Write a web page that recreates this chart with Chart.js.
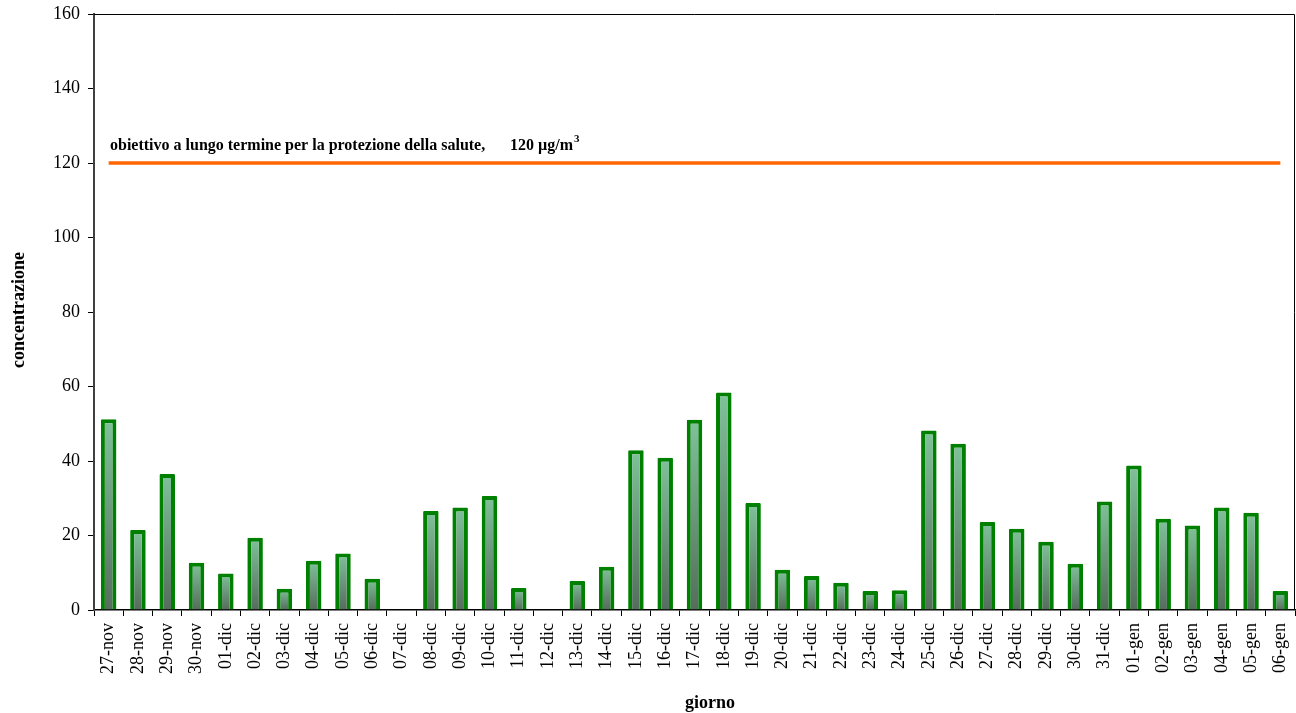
<!DOCTYPE html>
<html>
<head>
<meta charset="utf-8">
<script src="https://cdn.jsdelivr.net/npm/chart.js@4.4.1/dist/chart.umd.min.js"></script>
<style>
  html, body { margin: 0; padding: 0; background: #fff; }
  #wrap { width: 1296px; height: 713px; }
</style>
</head>
<body>
<div id="wrap"><canvas id="chart" width="1296" height="713"></canvas></div>
<script>
const days = [
  "27-nov", "28-nov", "29-nov", "30-nov",
  "01-dic", "02-dic", "03-dic", "04-dic", "05-dic", "06-dic", "07-dic", "08-dic",
  "09-dic", "10-dic", "11-dic", "12-dic", "13-dic", "14-dic", "15-dic", "16-dic",
  "17-dic", "18-dic", "19-dic", "20-dic", "21-dic", "22-dic", "23-dic", "24-dic",
  "25-dic", "26-dic", "27-dic", "28-dic", "29-dic", "30-dic", "31-dic",
  "01-gen", "02-gen", "03-gen", "04-gen", "05-gen", "06-gen"
]

// concentrazione giornaliera (null = dato mancante)
const concentrations = [
  51.2, 21.5, 36.5, 12.7,
  9.8, 19.4, 5.7, 13.2, 15.2, 8.4, null, 26.6,
  27.5, 30.6, 5.9, null, 7.8, 11.6, 42.9, 40.9,
  51.1, 58.4, 28.7, 10.8, 9.1, 7.3, 5.1, 5.3,
  48.2, 44.6, 23.6, 21.8, 18.3, 12.4, 29.1,
  38.8, 24.5, 22.7, 27.5, 26.1, 5.1
]

const target = 120
const targetLabel = "obiettivo a lungo termine per la protezione della salute,"
const targetUnit = "120 µg/m"
const yTicks = [0, 20, 40, 60, 80, 100, 120, 140, 160]
const xTitle = "giorno"
const yTitle = "concentrazione"

const serif = "'Liberation Serif', 'Times New Roman', serif"

// sfumatura per ogni barra: chiara in alto, scura in basso
function barGradient(context) {
  const chart = context.chart
  const area = chart.chartArea
  const v = context.raw
  if (!area || v == null) return '#6a9a7a'
  const y = chart.scales.y
  const top = y.getPixelForValue(v)
  const g = chart.ctx.createLinearGradient(0, top, 0, y.getPixelForValue(0))
  g.addColorStop(0, '#7fc29a')
  g.addColorStop(1, '#566c5d')
  return g
}

const frame = {
  id: 'frame',
  afterDraw(chart) {
    const { ctx, chartArea: { left, right, top, bottom }, scales: { y } } = chart
    ctx.save()
    ctx.strokeStyle = '#000'
    ctx.lineWidth = 1
    ctx.beginPath()
    ctx.moveTo(left, top + 0.5)
    ctx.lineTo(right - 0.5, top + 0.5)
    ctx.lineTo(right - 0.5, bottom)
    ctx.stroke()

    // testo dell'obiettivo
    const ty = y.getPixelForValue(target) - 17
    ctx.fillStyle = '#000'
    ctx.font = "bold 16px " + serif
    ctx.textBaseline = 'middle'
    ctx.textAlign = 'left'
    ctx.fillText(targetLabel, 110, ty)
    const ux = 510
    ctx.fillText(targetUnit, ux, ty)
    const uw = ctx.measureText(targetUnit).width
    ctx.font = "bold 11px " + serif
    ctx.fillText("3", ux + uw + 1, ty - 7)

    // titoli degli assi
    ctx.font = "bold 18px " + serif
    ctx.textAlign = 'center'
    ctx.fillText(xTitle, 710, 703)
    ctx.translate(19, 310)
    ctx.rotate(-Math.PI / 2)
    ctx.fillText(yTitle, 0, 0)
    ctx.restore()
  }
}

new Chart(document.getElementById('chart'), {
  data: {
    labels: days,
    datasets: [
      {
        type: 'line',
        data: days.map(() => target),
        borderColor: '#ff6600',
        borderWidth: 3.5,
        pointRadius: 0,
        fill: false,
        order: 0
      },
      {
        type: 'bar',
        data: concentrations,
        backgroundColor: barGradient,
        borderColor: '#008000',
        borderWidth: 4,
        borderSkipped: 'bottom',
        borderRadius: 1,
        barPercentage: 0.53,
        categoryPercentage: 1,
        order: 1
      }
    ]
  },
  options: {
    responsive: false,
    animation: false,
    layout: { padding: { top: 14, right: 1, left: 0, bottom: 0 } },
    plugins: {
      legend: { display: false },
      tooltip: { enabled: false }
    },
    scales: {
      x: {
        offset: true,
        grid: {
          offset: true,
          drawOnChartArea: false,
          drawTicks: true,
          tickLength: 6,
          color: '#000'
        },
        border: { color: '#000', width: 1.5 },
        ticks: {
          color: '#000',
          font: { family: serif, size: 18 },
          maxRotation: 90,
          minRotation: 90,
          autoSkip: false,
          padding: 7
        },
        afterFit(scale) {
          scale.height = 103
          scale.paddingLeft = 0
          scale.paddingRight = 0
        }
      },
      y: {
        min: 0,
        max: 160,
        afterBuildTicks(scale) { scale.ticks = yTicks.map(v => ({ value: v })) },
        grid: {
          drawOnChartArea: false,
          drawTicks: true,
          tickLength: 6,
          color: '#000'
        },
        border: { color: '#404040', width: 2 },
        ticks: {
          color: '#000',
          font: { family: serif, size: 18 },
          padding: 8
        },
        afterFit(scale) {
          scale.width = 94
          scale.paddingTop = 0
          scale.paddingBottom = 0
        }
      }
    }
  },
  plugins: [frame]
})
</script>
</body>
</html>
